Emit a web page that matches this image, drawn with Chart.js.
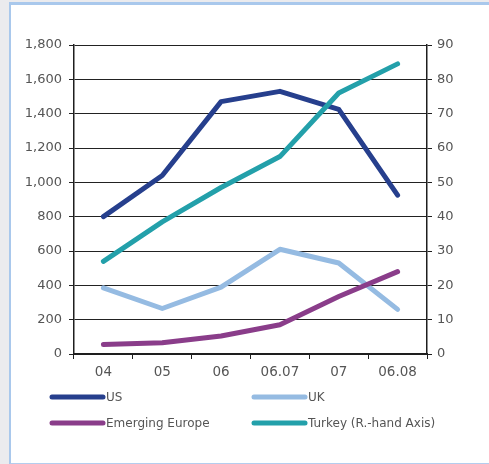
<!DOCTYPE html>
<html lang="en">

<head>
    <meta charset="UTF-8">
    <title>US, UK, Emerging Europe and Turkey</title>
    <script src="https://cdn.jsdelivr.net/npm/chart.js"></script>
    <style>
        body {
            margin: 0;
            width: 489px;
            height: 464px;
            background: #ebebee;
            overflow: hidden;
            position: relative;
        }

        .moldura {
            position: absolute;
            left: 9px;
            top: 2px;
            right: 0;
            height: 458px;
            background: #fff;
            border-left: 2px solid #a9c8ec;
            border-top: 3px solid #a9c8ec;
            border-bottom: 2px solid #b4cdee;
        }

        #grafico {
            position: absolute;
            left: 0;
            top: 0;
        }
    </style>
</head>

<body>
    <div class="moldura"></div>
    <canvas id="grafico" width="489" height="464"></canvas>
</body>

</html>
<script>
    // dados
    const categories = ['04', '05', '06', '06.07', '07', '06.08'];
    const usValues = [800, 1040, 1470, 1530, 1425, 925];
    const ukValues = [385, 265, 390, 610, 530, 260];
    const emergingEuropeValues = [55, 65, 105, 170, 335, 480];
    const turkeyValues = [27, 38.5, 48.5, 57.5, 76, 84.5];
    const leftTicks = [0, 200, 400, 600, 800, 1000, 1200, 1400, 1600, 1800];
    const rightTicks = [0, 10, 20, 30, 40, 50, 60, 70, 80, 90];

    const fonte = 'DejaVu Sans';
    const corTexto = '#555555';
    const corEixo = '#1e1e1e';

    function serie(label, data, cor, eixo, ordem) {
        return {
            label: label,
            data: data,
            yAxisID: eixo,
            borderColor: cor,
            backgroundColor: cor,
            borderWidth: 5,
            pointRadius: 0,
            tension: 0,
            borderCapStyle: 'round',
            borderJoinStyle: 'round',
            fill: false,
            order: ordem
        };
    }

    // legenda em duas colunas, desenhada no canvas
    const legendaColunas = {
        id: 'legendaColunas',
        afterDraw(chart) {
            const ctx = chart.ctx;
            const posicoes = [[52, 397], [254, 397], [52, 423], [254, 423]];
            ctx.save();
            ctx.font = '12px ' + fonte;
            ctx.textBaseline = 'middle';
            ctx.lineCap = 'round';
            chart.data.datasets.forEach(function (ds, i) {
                const p = posicoes[i];
                ctx.strokeStyle = ds.borderColor;
                ctx.lineWidth = 5;
                ctx.beginPath();
                ctx.moveTo(p[0], p[1]);
                ctx.lineTo(p[0] + 51, p[1]);
                ctx.stroke();
                ctx.fillStyle = corTexto;
                ctx.fillText(ds.label, p[0] + 54, p[1] + 1);
            });
            ctx.restore();
        }
    };

    const ctx = document.getElementById('grafico');

    new Chart(ctx, {
        type: 'line',
        data: {
            labels: categories,
            datasets: [
                serie('US', usValues, '#263f8d', 'y', 2),
                serie('UK', ukValues, '#95bbe2', 'y', 3),
                serie('Emerging Europe', emergingEuropeValues, '#8a3d8a', 'y', 1),
                serie('Turkey (R.-hand Axis)', turkeyValues, '#23a0aa', 'y1', 0)
            ]
        },
        options: {
            responsive: false,
            animation: false,
            devicePixelRatio: 1,
            layout: {
                padding: { top: 45, left: 0, right: 0, bottom: 0 }
            },
            scales: {
                x: {
                    offset: true,
                    grid: {
                        offset: true,
                        drawOnChartArea: false,
                        tickLength: 5,
                        color: corEixo
                    },
                    border: { color: corEixo, width: 2 },
                    ticks: {
                        color: corTexto,
                        padding: 5,
                        maxRotation: 0,
                        font: { family: fonte, size: 13.5 }
                    },
                    afterFit(scale) { scale.height = 110; }
                },
                y: {
                    position: 'left',
                    min: 0,
                    max: 1800,
                    afterBuildTicks(scale) {
                        scale.ticks = leftTicks.map(function (v) { return { value: v }; });
                    },
                    ticks: {
                        color: corTexto,
                        padding: 7,
                        font: { family: fonte, size: 13 },
                        callback: function (v) { return v.toLocaleString('en-US'); }
                    },
                    grid: {
                        color: '#222222',
                        lineWidth: 1,
                        tickLength: 5
                    },
                    border: { color: corEixo, width: 1.5 },
                    afterFit(scale) { scale.width = 74; }
                },
                y1: {
                    position: 'right',
                    min: 0,
                    max: 90,
                    afterBuildTicks(scale) {
                        scale.ticks = rightTicks.map(function (v) { return { value: v }; });
                    },
                    ticks: {
                        color: corTexto,
                        padding: 5,
                        font: { family: fonte, size: 13 }
                    },
                    grid: {
                        drawOnChartArea: false,
                        color: corEixo,
                        tickLength: 5
                    },
                    border: { color: corEixo, width: 1.5 },
                    afterFit(scale) { scale.width = 62; }
                }
            },
            plugins: {
                legend: { display: false },
                tooltip: { enabled: false },
                title: { display: false }
            }
        },
        plugins: [legendaColunas]
    });
</script>
